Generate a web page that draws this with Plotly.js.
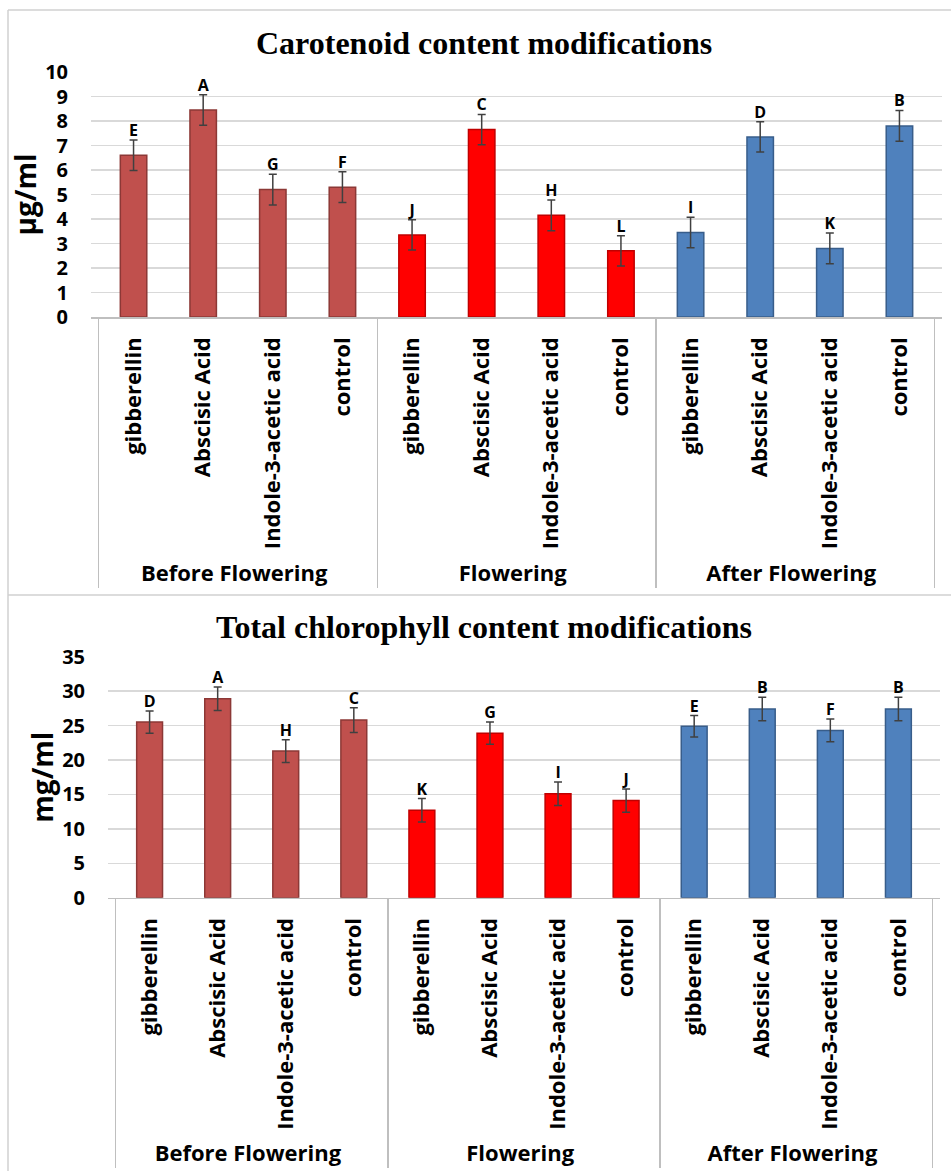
<!DOCTYPE html>
<html>
<head>
<meta charset="utf-8">
<script src="https://cdn.plot.ly/plotly-3.0.1.min.js"></script>
<style>html,body{margin:0;padding:0;background:#fff}#chart{width:951px;height:1171px}</style>
</head>
<body>
<div id="chart"></div>
<script>
// ---- data ----
const groups = ['Before Flowering', 'Flowering', 'After Flowering'];
const treatments = ['gibberellin', 'Abscisic Acid', 'Indole-3-acetic acid', 'control'];

const carBefore = [6.6, 8.45, 5.2, 5.3];
const carFlower = [3.35, 7.65, 4.15, 2.7];
const carAfter = [3.45, 7.35, 2.8, 7.8];
const carErrBefore = [0.62, 0.62, 0.63, 0.63];
const carErrFlower = [0.62, 0.62, 0.63, 0.62];
const carErrAfter = [0.62, 0.62, 0.63, 0.63];
const carLetBefore = ['E', 'A', 'G', 'F'];
const carLetFlower = ['J', 'C', 'H', 'L'];
const carLetAfter = ['I', 'D', 'K', 'B'];

const chlBefore = [25.5, 28.9, 21.3, 25.8];
const chlFlower = [12.7, 23.9, 15.1, 14.1];
const chlAfter = [24.9, 27.4, 24.3, 27.4];
const chlErrBefore = [1.6, 1.7, 1.65, 1.8];
const chlErrFlower = [1.7, 1.6, 1.7, 1.7];
const chlErrAfter = [1.55, 1.7, 1.65, 1.7];
const chlLetBefore = ['D', 'A', 'H', 'C'];
const chlLetFlower = ['K', 'G', 'I', 'J'];
const chlLetAfter = ['E', 'B', 'F', 'B'];

// ---- styles ----
const fills = ['#C0504D', '#FF0000', '#4F81BD'];
const edges = ['#8C3836', '#C00000', '#385D8A'];
const W = 951, H = 1171;
const px = v => v / W;
const py = v => 1 - v / H;

function chartTraces(xa, ya, vals, errs, lets) {
  const out = [];
  groups.forEach((g, gi) => {
    const x = [treatments.map(() => g), treatments.slice()];
    out.push({
      type: 'bar', xaxis: xa, yaxis: ya, x: x, y: vals[gi], width: 0.38,
      marker: {color: fills[gi], line: {color: edges[gi], width: 1.5}},
      error_y: {type: 'data', array: errs[gi], visible: true, color: '#404040', thickness: 1.5, width: 4},
      hoverinfo: 'skip', showlegend: false
    });
    out.push({
      type: 'scatter', mode: 'text', xaxis: xa, yaxis: ya, x: x,
      y: vals[gi].map((v, i) => v + errs[gi][i]),
      text: lets[gi], textposition: 'top center',
      textfont: {family: 'Open Sans', size: 16, weight: 700, color: '#000'},
      cliponaxis: false, hoverinfo: 'skip', showlegend: false
    });
  });
  return out;
}

const data = [].concat(
  chartTraces('x', 'y', [carBefore, carFlower, carAfter], [carErrBefore, carErrFlower, carErrAfter], [carLetBefore, carLetFlower, carLetAfter]),
  chartTraces('x2', 'y2', [chlBefore, chlFlower, chlAfter], [chlErrBefore, chlErrFlower, chlErrAfter], [chlLetBefore, chlLetFlower, chlLetAfter])
);

const tickFont = {family: 'Open Sans', size: 20, weight: 700, color: '#000'};
function xAxis(domain, anchor) {
  return {
    type: 'multicategory', domain: domain, anchor: anchor, tickangle: -90,
    tickfont: {family: 'Open Sans', size: 22, weight: 700, color: '#000'},
    ticklabelstandoff: 10,
    showline: true, linecolor: '#bfbfbf', linewidth: 1.5,
    showdividers: true, dividercolor: '#bfbfbf', dividerwidth: 1.5,
    showgrid: false, ticks: '', fixedrange: true, automargin: false
  };
}
function yAxis(domain, anchor, range, dtick, title) {
  return {
    domain: domain, anchor: anchor, range: range, dtick: dtick,
    showgrid: true, gridcolor: '#d9d9d9', gridwidth: 1.5, zeroline: false, showline: false,
    tickfont: tickFont, ticklabelstandoff: 22, ticks: '', fixedrange: true, automargin: false,
    title: {text: title, font: {family: 'Open Sans', size: 28, weight: 700, color: '#000'}, standoff: 0}
  };
}

const layout = {
  width: W, height: H, margin: {l: 0, r: 0, t: 0, b: 0},
  paper_bgcolor: '#fff', plot_bgcolor: '#fff', barmode: 'overlay', showlegend: false,
  xaxis: xAxis([px(91), px(942)], 'y'),
  yaxis: yAxis([py(317), py(72)], 'x', [0, 10], 1, 'µg/ml'),
  xaxis2: xAxis([px(108), px(940)], 'y2'),
  yaxis2: yAxis([py(897.7), py(656.7)], 'x2', [0, 35], 5, 'mg/ml'),
  annotations: [
    {text: 'Carotenoid content modifications', xref: 'paper', yref: 'paper', x: px(484), y: py(43),
     xanchor: 'center', yanchor: 'middle', showarrow: false,
     font: {family: 'Liberation Serif', size: 32, weight: 700, color: '#000'}},
    {text: 'Total chlorophyll content modifications', xref: 'paper', yref: 'paper', x: px(484), y: py(627),
     xanchor: 'center', yanchor: 'middle', showarrow: false,
     font: {family: 'Liberation Serif', size: 32, weight: 700, color: '#000'}}
  ],
  shapes: [
    {type: 'line', xref: 'paper', yref: 'paper', x0: px(8), x1: 1, y0: py(10), y1: py(10), line: {color: '#d0d0d0', width: 1.5}},
    {type: 'line', xref: 'paper', yref: 'paper', x0: px(8), x1: 1, y0: py(595), y1: py(595), line: {color: '#d0d0d0', width: 1.5}},
    {type: 'line', xref: 'paper', yref: 'paper', x0: px(8), x1: px(8), y0: py(10), y1: 0, line: {color: '#d0d0d0', width: 1.5}}
  ]
};

Plotly.newPlot('chart', data, layout, {staticPlot: true});
</script>
</body>
</html>
